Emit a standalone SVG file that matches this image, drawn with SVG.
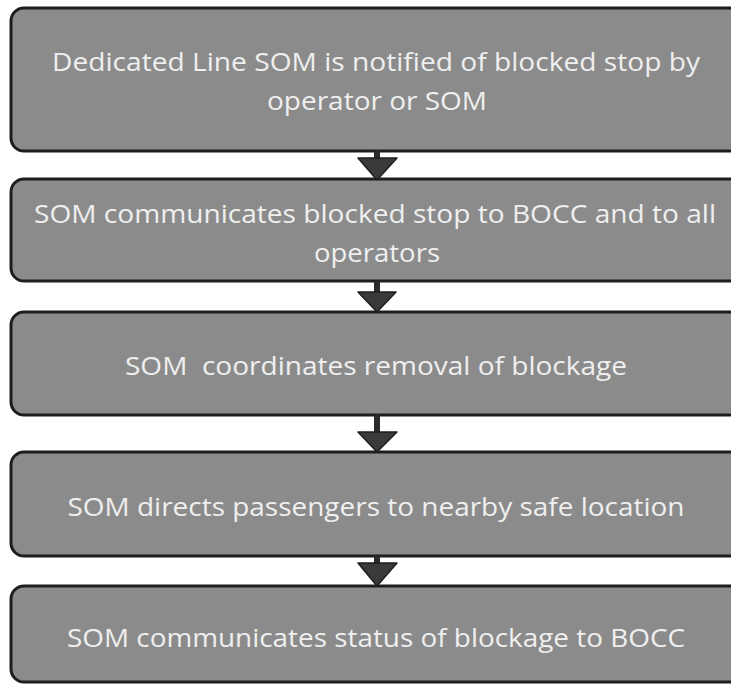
<svg xmlns="http://www.w3.org/2000/svg" width="731" height="685" viewBox="0 0 731 685">
  <style>
    .box { fill: #8b8b8b; stroke: #1e1e1e; stroke-width: 3; }
    .lbl { fill: #efefef; font-family: "Open Sans", "Noto Sans", sans-serif; font-size: 26px; text-anchor: middle; white-space: pre; }
    .stem { stroke: #2a2a2a; stroke-width: 6; }
    .head { fill: #3a3a3a; stroke: #1e1e1e; stroke-width: 1.5; stroke-linejoin: round; }
  </style>
  <rect width="731" height="685" fill="#ffffff"/>

  <g id="step1">
    <rect class="box" x="11" y="8" width="745" height="143" rx="13"/>
    <text class="lbl" x="376" y="71" textLength="648" lengthAdjust="spacingAndGlyphs">Dedicated Line SOM is notified of blocked stop by</text>
    <text class="lbl" x="377" y="110" textLength="220" lengthAdjust="spacingAndGlyphs">operator or SOM</text>
  </g>

  <g id="step2">
    <rect class="box" x="11" y="179" width="745" height="102" rx="13"/>
    <text class="lbl" x="375" y="223" textLength="682" lengthAdjust="spacingAndGlyphs">SOM communicates blocked stop to BOCC and to all</text>
    <text class="lbl" x="377" y="262" textLength="126" lengthAdjust="spacingAndGlyphs">operators</text>
  </g>

  <g id="step3">
    <rect class="box" x="11" y="312" width="745" height="103" rx="13"/>
    <text class="lbl" x="376" y="375" textLength="502" lengthAdjust="spacingAndGlyphs">SOM  coordinates removal of blockage</text>
  </g>

  <g id="step4">
    <rect class="box" x="11" y="452" width="745" height="104" rx="13"/>
    <text class="lbl" x="376" y="516" textLength="617" lengthAdjust="spacingAndGlyphs">SOM directs passengers to nearby safe location</text>
  </g>

  <g id="step5">
    <rect class="box" x="11" y="586" width="745" height="96" rx="13"/>
    <text class="lbl" x="376" y="647" textLength="618" lengthAdjust="spacingAndGlyphs">SOM communicates status of blockage to BOCC</text>
  </g>

  <g id="connectors">
    <line class="stem" x1="377" y1="151" x2="377" y2="162"/>
    <polygon class="head" points="358,158 397,158 377,180"/>
    <line class="stem" x1="377" y1="281" x2="377" y2="295"/>
    <polygon class="head" points="358,292 396,292 377,312"/>
    <line class="stem" x1="377" y1="415" x2="377" y2="435"/>
    <polygon class="head" points="358,432 397,432 377,452"/>
    <line class="stem" x1="377" y1="556" x2="377" y2="566"/>
    <polygon class="head" points="358,563 397,563 377,586"/>
  </g>
</svg>
